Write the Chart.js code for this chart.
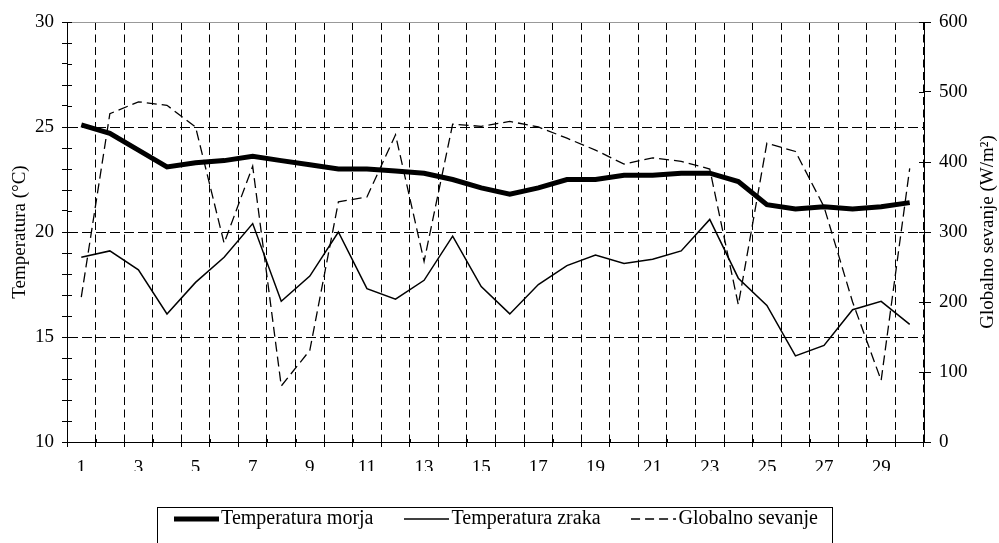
<!DOCTYPE html>
<html><head><meta charset="utf-8">
<script src="https://cdn.jsdelivr.net/npm/chart.js@4.4.1/dist/chart.umd.min.js"></script>
<style>html,body{margin:0;padding:0;background:#fff;overflow:hidden}#wrap{width:999px;height:543px}</style>
</head><body>
<div id="wrap"><canvas id="c" width="999" height="543"></canvas></div>
<script>
const days = ['1','2','3','4','5','6','7','8','9','10','11','12','13','14','15','16','17','18','19','20','21','22','23','24','25','26','27','28','29','30'];
const seaTemp = [25.1,24.7,23.9,23.1,23.3,23.4,23.6,23.4,23.2,23.0,23.0,22.9,22.8,22.5,22.1,21.8,22.1,22.5,22.5,22.7,22.7,22.8,22.8,22.4,21.3,21.1,21.2,21.1,21.2,21.4];
const airTemp = [18.8,19.1,18.2,16.1,17.6,18.8,20.4,16.7,17.9,20.0,17.3,16.8,17.7,19.8,17.4,16.1,17.5,18.4,18.9,18.5,18.7,19.1,20.6,17.8,16.5,14.1,14.6,16.3,16.7,15.6];
const radiation = [207,469,486,481,450,284,394,80,131,343,350,439,258,454,451,458,450,434,417,397,406,401,390,196,427,415,336,200,88,391];
const tempRange = [10,30];
const tempMajorStep = 5;
const radRange = [0,600];
const radStep = 100;
const seriesNames = ['Temperatura morja','Temperatura zraka','Globalno sevanje'];
const leftTitle = 'Temperatura (°C)';
const rightTitle = 'Globalno sevanje (W/m²)';

const FONT = '"Liberation Serif","Times New Roman",serif';
Chart.defaults.font.family = FONT;
Chart.defaults.font.size = 19;
Chart.defaults.color = '#000';

function sample(lw, dash){
  const c = document.createElement('canvas');
  c.width = 45; c.height = 8;
  const g = c.getContext('2d');
  g.strokeStyle = '#000'; g.lineWidth = lw; g.setLineDash(dash);
  g.beginPath(); g.moveTo(0,4); g.lineTo(45,4); g.stroke();
  return c;
}
const samples = [sample(5,[]), sample(1.5,[]), sample(1.5,[9,5])];

const innerTicks = {
  id:'innerTicks',
  afterDatasetsDraw(chart){
    const {ctx, chartArea:a, scales} = chart;
    ctx.save(); ctx.strokeStyle='#000'; ctx.lineWidth=1; ctx.setLineDash([]);
    ctx.beginPath();
    scales.y.ticks.forEach(t=>{const p=Math.round(scales.y.getPixelForValue(t.value))+0.5; ctx.moveTo(a.left,p); ctx.lineTo(a.left+5,p);});
    scales.y1.ticks.forEach(t=>{const p=Math.round(scales.y1.getPixelForValue(t.value))+0.5; ctx.moveTo(a.right-5,p); ctx.lineTo(a.right,p);});
    const xs = scales.x; const w = xs.getPixelForValue(1)-xs.getPixelForValue(0);
    for(let i=0;i<=days.length;i++){const p=Math.round(xs.getPixelForValue(0)-w/2+i*w)+0.5; ctx.moveTo(p,a.bottom-3); ctx.lineTo(p,a.bottom);}
    ctx.stroke();
    ctx.restore();
  }
};
const rightTitlePlugin = {
  id:'rightTitle',
  afterDraw(chart){
    const {ctx, chartArea:a} = chart;
    ctx.save();
    ctx.font = '19px ' + FONT; ctx.fillStyle = '#000';
    ctx.textAlign = 'center'; ctx.textBaseline = 'middle';
    ctx.translate(988, (a.top + a.bottom)/2);
    ctx.rotate(-Math.PI/2);
    ctx.fillText(rightTitle, 0, 0);
    ctx.restore();
  }
};
const legendBox = {
  id:'legendBox',
  afterDraw(chart){
    const lg = chart.legend; const hb = lg.legendHitBoxes; if(!hb||!hb.length) return;
    const ctx = chart.ctx; ctx.save(); ctx.strokeStyle='#000'; ctx.lineWidth=1;
    const l = Math.round(hb[0].left-7.5-17)+0.5, r = Math.round(hb[hb.length-1].left+hb[hb.length-1].width+14)+0.5;
    const t = Math.round(hb[0].top+10-12.5)+0.5;
    ctx.strokeRect(l,t,r-l,100);
    ctx.restore();
  }
};

new Chart(document.getElementById('c'), {
  type:'line',
  data:{labels:days, datasets:[
    {label:seriesNames[0], data:seaTemp, yAxisID:'y', borderColor:'#000', borderWidth:5, pointRadius:0, tension:0},
    {label:seriesNames[1], data:airTemp, yAxisID:'y', borderColor:'#000', borderWidth:1.5, pointRadius:0, tension:0},
    {label:seriesNames[2], data:radiation, yAxisID:'y1', borderColor:'#000', borderWidth:1.3, borderDash:[10,5], pointRadius:0, tension:0}
  ]},
  options:{
    responsive:false, animation:false, events:[],
    layout:{padding:{top:22,left:0,right:0,bottom:4}},
    plugins:{
      tooltip:{enabled:false},
      legend:{position:'bottom', labels:{
        usePointStyle:true, pointStyleWidth:30, boxHeight:20, padding:38, color:'#000', font:{size:20, family:FONT},
        generateLabels:(chart)=>chart.data.datasets.map((d,i)=>({text:d.label, pointStyle:samples[i], fillStyle:'#000', strokeStyle:'#000', lineWidth:0, hidden:false, datasetIndex:i}))
      }}
    },
    scales:{
      x:{type:'category', offset:true,
        grid:{offset:true, color:'#000', lineWidth:1, tickLength:5, tickColor:'#000'},
        border:{color:'#000', width:1, dash:[8,4.5]},
        ticks:{autoSkip:false, maxRotation:0, padding:10, callback:(v,i)=> i%2===0 ? days[i] : ''},
        afterFit:(s)=>{s.height=29;}
      },
      y:{position:'left', min:tempRange[0], max:tempRange[1],
        ticks:{stepSize:1, autoSkip:false, padding:8, callback:(v)=> v%tempMajorStep===0 ? v : ''},
        grid:{color:(c)=>{const v=c.tick&&c.tick.value; if(v===tempRange[1]) return '#999'; if(v%tempMajorStep===0 && v!==tempRange[0]) return '#000'; return 'rgba(0,0,0,0)';}, tickLength:5, tickColor:'#000'},
        border:{color:'#000', width:1, dash:(c)=> (c.tick && c.tick.value===tempRange[1]) ? [] : [10,4]},
        title:{display:true, text:leftTitle, font:{size:19}, padding:{top:9,bottom:0}},
        afterFit:(s)=>{s.width=67;}
      },
      y1:{position:'right', min:radRange[0], max:radRange[1],
        ticks:{stepSize:radStep, autoSkip:false, padding:8},
        grid:{drawOnChartArea:false, tickLength:7, tickColor:'#000', color:'#000'},
        border:{color:'#000', width:1},
        title:{display:false},
        afterFit:(s)=>{s.width=75;}
      }
    }
  },
  plugins:[innerTicks, legendBox, rightTitlePlugin]
});
</script>
</body></html>
